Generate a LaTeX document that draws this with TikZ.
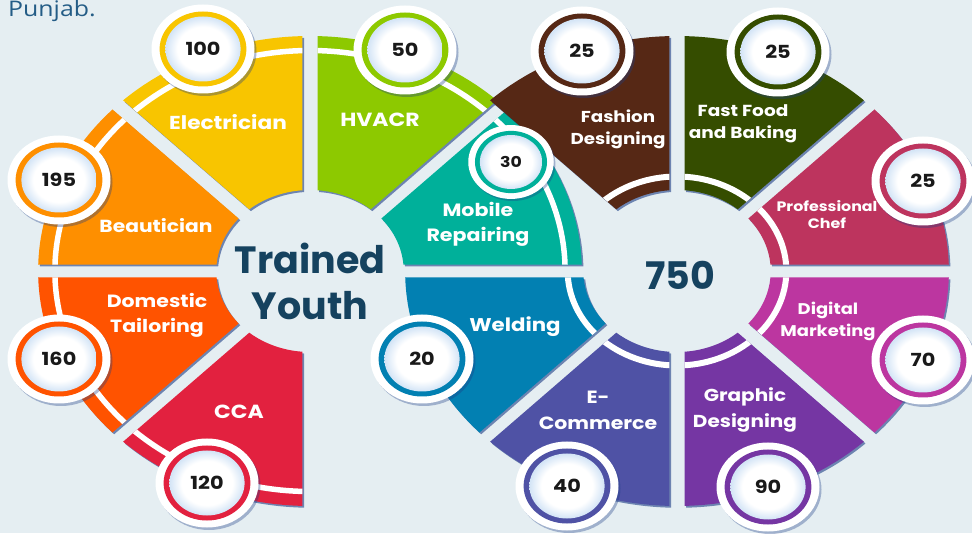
\documentclass[tikz,border=0pt]{standalone}
\usepackage{fontspec}
\setmainfont{Open Sans}[FakeStretch=1.157]
\newfontfamily\popfont{Poppins}[FakeStretch=1.157]
\newfontfamily\popplain{Poppins}

\definecolor{bgcol}{HTML}{E5EEF2}
\definecolor{inkblue}{HTML}{15425F}
\definecolor{topblue}{HTML}{235C86}
\definecolor{shadowcol}{HTML}{1D3E86}
\definecolor{discedge}{HTML}{D3E4F6}
\definecolor{eleccol}{HTML}{F8C500}
\definecolor{hvaccol}{HTML}{8DC900}
\definecolor{mobcol}{HTML}{00B09A}
\definecolor{weldcol}{HTML}{0280B2}
\definecolor{beaucol}{HTML}{FE8F00}
\definecolor{tailcol}{HTML}{FF5300}
\definecolor{ccacol}{HTML}{E2213F}
\definecolor{fashcol}{HTML}{562815}
\definecolor{foodcol}{HTML}{354D00}
\definecolor{chefcol}{HTML}{BD345E}
\definecolor{digicol}{HTML}{BC36A0}
\definecolor{graphcol}{HTML}{7536A3}
\definecolor{ecomcol}{HTML}{4F52A5}

\pgfdeclareradialshading{discshade}{\pgfpoint{0bp}{0bp}}{%
  color(0bp)=(white); color(17bp)=(white); color(25bp)=(discedge); color(50bp)=(discedge)}

% one piece of a wheel, 45 degrees wide, starting at #1
\newcommand{\piece}[1]{(#1+1.585:235) arc[start angle=#1+1.585, end angle=#1+43.415, radius=235]
  -- (#1+40.4:81) arc[start angle=#1+40.4, end angle=#1+4.6, radius=81] -- cycle}

\tikzset{
  piecetext/.style n args={2}{text=white, align=center, inner sep=0,
    font=\popfont\bfseries\fontsize{#1}{#2}\selectfont},
  numtext/.style={text=black!90, inner sep=0,
    font=\popfont\bfseries\fontsize{18}{20}\selectfont},
  bigtext/.style={text=inkblue, align=center, inner sep=0,
    font=\popplain\bfseries\fontsize{38}{46}\selectfont}
}

\begin{document}
\begin{tikzpicture}[x=1pt, y=1pt]
    % Background
    \fill[bgcol] (0,0) rectangle (972,533);
    \useasboundingbox (0,0) rectangle (972,533);

    % Last line of the caption above
    \node[anchor=base west, text=topblue, inner sep=0,
          font=\fontsize{21.5}{25}\selectfont] (punjab) at (8,516) {Punjab.};

    % Left wheel (white band near the rim)
    \begin{scope}[shift={(310,262)}, xscale=1.157]
        \foreach \ang/\col in {0/mobcol, 45/hvaccol, 90/eleccol, 135/beaucol, 180/tailcol, 225/ccacol} {
            \fill[shadowcol, opacity=0.6, shift={(1.4,-1.8)}] \piece{\ang};
            \fill[\col] \piece{\ang};
            \begin{scope}
                \clip \piece{\ang};
                \draw[white, line width=5.5] (\ang:220.5) arc[start angle=\ang, end angle=\ang+45, radius=220.5];
            \end{scope}
        }
    \end{scope}

    % Right wheel (white band near the hole)
    \begin{scope}[shift={(677,262)}, xscale=1.157]
        \foreach \ang/\col in {180/weldcol, 225/ecomcol, 270/graphcol, 315/digicol, 0/chefcol, 45/foodcol, 90/fashcol} {
            \fill[shadowcol, opacity=0.6, shift={(1.4,-1.8)}] \piece{\ang};
            \fill[\col] \piece{\ang};
            \begin{scope}
                \clip \piece{\ang};
                \draw[white, line width=6] (\ang:94.5) arc[start angle=\ang, end angle=\ang+45, radius=94.5];
            \end{scope}
        }
    \end{scope}

    % Number discs
    \foreach \x/\y/\col/\num/\s/\nm in {203/484/eleccol/100/1/n100, 405/483/hvaccol/50/1/n50,
            59/353/beaucol/195/1/n195, 59/174/tailcol/160/1/n160, 207/50/ccacol/120/1/n120,
            511/371/mobcol/30/0.83/n30, 422/174/weldcol/20/1/n20, 567/47/ecomcol/40/1/n40,
            768/46/graphcol/90/1/n90, 923/173/digicol/70/1/n70, 923/352/chefcol/25/1/nchef,
            778/481/foodcol/25/1/nfood, 582/482/fashcol/25/1/nfash} {
        \begin{scope}[shift={(\x,\y)}, scale=\s]
            \fill[shadowcol, opacity=0.35] (2,-2.5) ellipse[x radius=51.5, y radius=44.5];
            \fill[white] (0,0) ellipse[x radius=51.5, y radius=44.5];
            \fill[\col] (0,0) ellipse[x radius=43.4, y radius=37.5];
            \shade[shading=discshade] (0,0) ellipse[x radius=37.6, y radius=32.5];
            \node[numtext, scale=\s] (\nm) at (0,0) {\num};
        \end{scope}
    }

    % Trade names
    \node[piecetext={18.7}{25}] (elec)  at (228,411) {Electrician};
    \node[piecetext={19}{25}]   (hvacr) at (380,413) {HVACR};
    \node[piecetext={17.8}{25}] (mobile) at (478,309) {Mobile\\Repairing};
    \node[piecetext={18.4}{25}] (weld)  at (515,206) {Welding};
    \node[piecetext={17.5}{25}] (beau)  at (156,307) {Beautician};
    \node[piecetext={17.7}{25}] (tail)  at (157,218) {Domestic\\Tailoring};
    \node[piecetext={19}{25}]   (cca)   at (239,121) {CCA};
    \node[piecetext={15.8}{22}] (fash)  at (618,404) {Fashion\\Designing};
    \node[piecetext={16}{22}]   (food)  at (743,409) {Fast Food\\and Baking};
    \node[piecetext={13.7}{17}] (chef)  at (827,318) {Professional\\Chef};
    \node[piecetext={15.5}{22}] (digi)  at (828,212) {Digital\\Marketing};
    \node[piecetext={17.3}{26}] (graph) at (745,123) {Graphic\\Designing};
    \node[piecetext={17.7}{26}] (ecom)  at (598,123) {E-\\Commerce};

    % Centre texts
    \node[bigtext] (trained) at (310,252) {Trained\\Youth};
    \node[bigtext] (total)   at (680,258) {750};
\end{tikzpicture}
\end{document}
